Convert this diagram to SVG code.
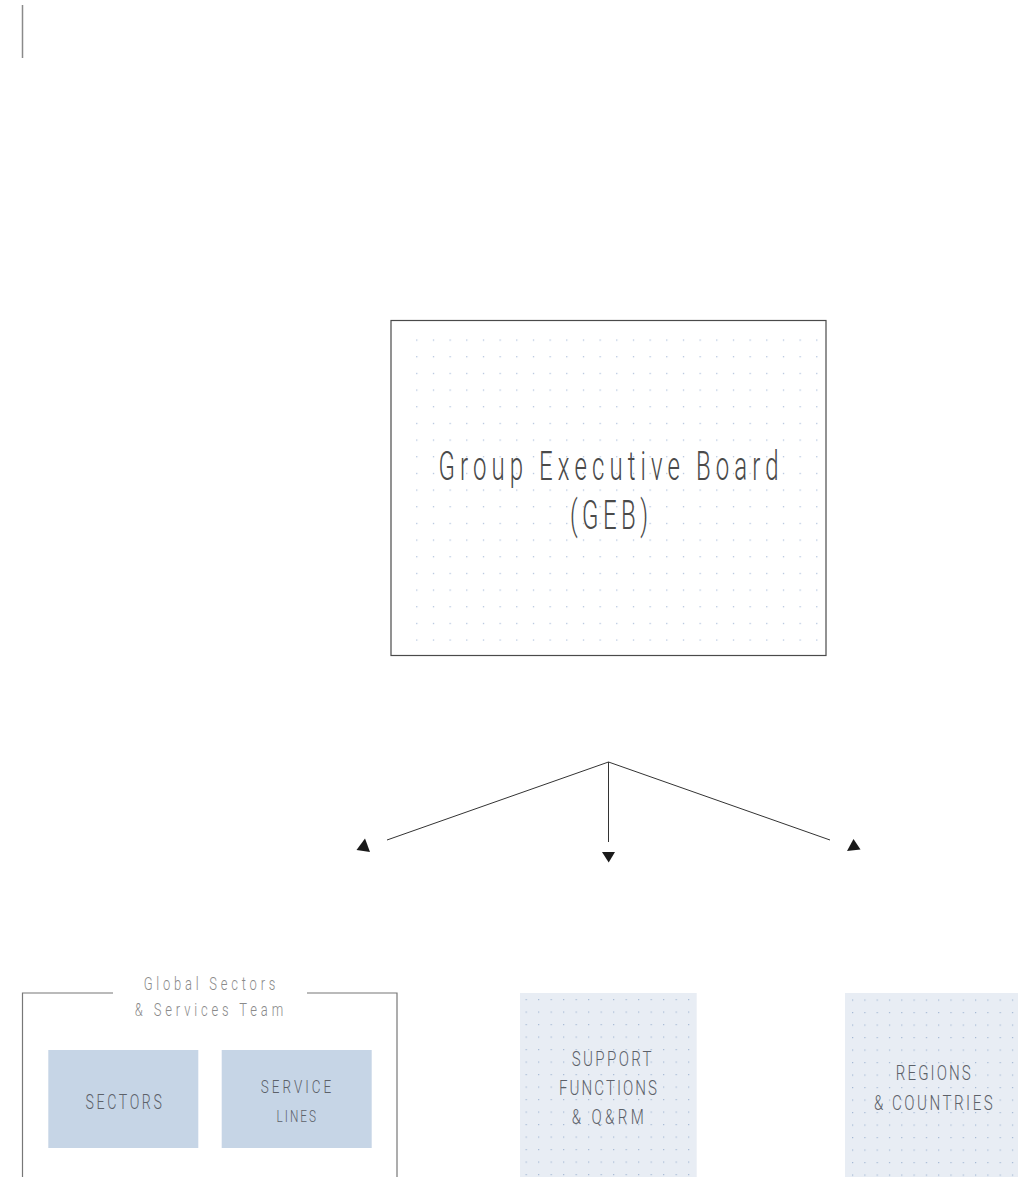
<svg xmlns="http://www.w3.org/2000/svg" width="1018" height="1177" viewBox="0 0 1018 1177">
  <style>
    .t { font-family: Roboto, "Liberation Sans", sans-serif; text-anchor: middle; }
    .geb { font-size: 40px; font-weight: 300; fill: #4a4a4a; }
    .lbl { font-size: 18px; font-weight: 300; fill: #8a8a8a; }
    .cap { font-weight: 300; fill: #5c6169; }
    .conn { stroke: #333; stroke-width: 1; fill: none; }
    .head { fill: #1a1a1a; }
  </style>
  <defs>
    <pattern id="dotsBig" patternUnits="userSpaceOnUse" x="416.2" y="339.5" width="16.667" height="16.667">
      <rect x="0" y="0" width="1.2" height="1.2" fill="#a7bbd8"/>
    </pattern>
    <pattern id="dotsSmall" patternUnits="userSpaceOnUse" x="525.6" y="999" width="12.5" height="12.5">
      <rect x="0" y="0" width="1.2" height="1.2" fill="#a3b7d3"/>
    </pattern>
    <pattern id="dotsSmall2" patternUnits="userSpaceOnUse" x="852" y="999.5" width="12.3" height="12.5">
      <rect x="0" y="0" width="1.2" height="1.2" fill="#a3b7d3"/>
    </pattern>
  </defs>

  <rect width="1018" height="1177" fill="#ffffff"/>

  <line x1="22.5" y1="5" x2="22.5" y2="58" stroke="#8a8a8a" stroke-width="1.5"/>

  <g id="geb">
    <rect x="391" y="320.5" width="435" height="335" fill="#ffffff" stroke="#4a4a4a" stroke-width="1.2"/>
    <rect x="414" y="337" width="404" height="304" fill="url(#dotsBig)"/>
    <g transform="translate(608.5 480) scale(0.6 1)">
      <text class="t geb" x="0" y="0" textLength="567" lengthAdjust="spacing">Group Executive Board</text>
    </g>
    <g transform="translate(609 529) scale(0.6 1)">
      <text class="t geb" x="0" y="0" textLength="130" lengthAdjust="spacing">(GEB)</text>
    </g>
  </g>

  <g id="connectors">
    <line class="conn" x1="608.5" y1="762" x2="387" y2="840"/>
    <line class="conn" x1="608.5" y1="762" x2="830" y2="840"/>
    <line class="conn" x1="608.5" y1="762" x2="608.5" y2="842"/>
    <polygon class="head" points="365,838.5 356.5,850 370,852"/>
    <polygon class="head" points="602,852 615,852 608.7,862.5"/>
    <polygon class="head" points="853.5,839 847,851 860.5,849.5"/>
  </g>

  <g id="global-team">
    <polyline points="22.5,1177 22.5,993 113,993" fill="none" stroke="#777" stroke-width="1.2"/>
    <polyline points="307,993 397,993 397,1177" fill="none" stroke="#777" stroke-width="1.2"/>
    <g transform="translate(209.5 990) scale(0.72 1)">
      <text class="t lbl" x="0" y="0" textLength="183" lengthAdjust="spacing">Global Sectors</text>
    </g>
    <g transform="translate(209 1016) scale(0.72 1)">
      <text class="t lbl" x="0" y="0" textLength="206" lengthAdjust="spacing">&amp; Services Team</text>
    </g>
  </g>

  <g id="sectors">
    <rect x="48.3" y="1050" width="150" height="98" fill="#c6d5e6"/>
    <g transform="translate(123.7 1109) scale(0.72 1)">
      <text class="t cap" x="0" y="0" font-size="19.7" textLength="106" lengthAdjust="spacing">SECTORS</text>
    </g>
  </g>

  <g id="service-lines">
    <rect x="221.7" y="1050" width="150" height="98" fill="#c6d5e6"/>
    <g transform="translate(296 1093) scale(0.72 1)">
      <text class="t cap" x="0" y="0" font-size="18.7" textLength="98" lengthAdjust="spacing">SERVICE</text>
    </g>
    <g transform="translate(296.3 1121.7) scale(0.72 1)">
      <text class="t cap" x="0" y="0" font-size="16.4" textLength="55" lengthAdjust="spacing">LINES</text>
    </g>
  </g>

  <g id="support-functions">
    <rect x="520" y="993" width="176.7" height="184" fill="#e8edf4"/>
    <rect x="522" y="995" width="172" height="182" fill="url(#dotsSmall)"/>
    <g transform="translate(611.7 1066) scale(0.72 1)">
      <text class="t cap" x="0" y="0" font-size="21" textLength="111" lengthAdjust="spacing">SUPPORT</text>
    </g>
    <g transform="translate(608 1095) scale(0.72 1)">
      <text class="t cap" x="0" y="0" font-size="21" textLength="136" lengthAdjust="spacing">FUNCTIONS</text>
    </g>
    <g transform="translate(607.8 1124) scale(0.72 1)">
      <text class="t cap" x="0" y="0" font-size="21" textLength="100" lengthAdjust="spacing">&amp; Q&amp;RM</text>
    </g>
  </g>

  <g id="regions-countries">
    <rect x="845" y="993" width="173" height="184" fill="#e8edf4"/>
    <rect x="848" y="995" width="170" height="182" fill="url(#dotsSmall2)"/>
    <g transform="translate(933.3 1080) scale(0.72 1)">
      <text class="t cap" x="0" y="0" font-size="21" textLength="104" lengthAdjust="spacing">REGIONS</text>
    </g>
    <g transform="translate(933.3 1110) scale(0.72 1)">
      <text class="t cap" x="0" y="0" font-size="21" textLength="165" lengthAdjust="spacing">&amp; COUNTRIES</text>
    </g>
  </g>
</svg>
